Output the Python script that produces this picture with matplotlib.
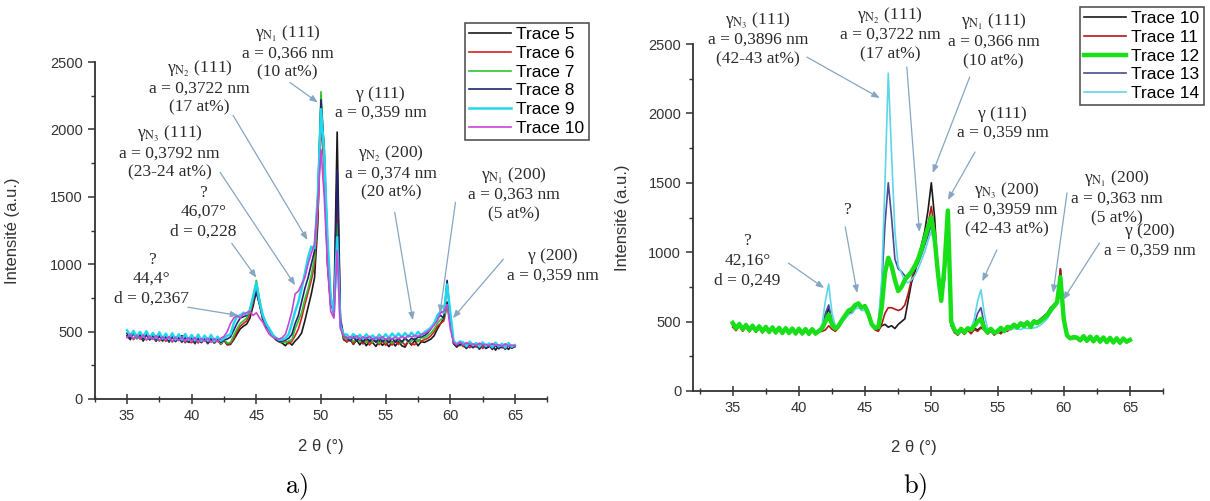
import numpy as np
import matplotlib
matplotlib.use('Agg')
import matplotlib.pyplot as plt
from matplotlib.ticker import MultipleLocator

plt.rcParams['font.family'] = ['Liberation Sans', 'DejaVu Sans']
plt.rcParams['mathtext.fontset'] = 'stix'

# 2 theta grid (deg), one reading every 0.25 deg
two_theta = np.arange(35, 65.001, 0.25)

# ---- panel a) traces ----
labels_a = ['Trace 5', 'Trace 6', 'Trace 7', 'Trace 8', 'Trace 9', 'Trace 10']
trace5 = [470, 440, 490, 452, 468, 430, 474, 445, 462, 428, 470, 431, 456, 422, 465, 427, 450, 470, 418, 454,
          446, 410, 451, 420, 448, 412, 445, 416, 440, 408, 435, 402, 405, 440, 480, 520, 540, 555, 600, 690,
          800, 700, 590, 540, 510, 470, 440, 425, 415, 395, 425, 400, 430, 455, 490, 580, 680, 780, 900, 1300,
          2180, 1750, 1000, 690, 680, 1980, 560, 440, 425, 445, 405, 438, 402, 435, 395, 428, 418, 390, 432, 398,
          422, 388, 425, 393, 430, 395, 385, 428, 400, 435, 395, 425, 420, 432, 445, 470, 520, 560, 600, 720,
          580, 410, 385, 408, 398, 375, 405, 380, 400, 370, 402, 375, 388, 405, 362, 398, 380, 400, 368, 395, 392]
trace6 = [460, 485, 442, 478, 445, 457, 472, 440, 455, 468, 430, 462, 428, 460, 422, 457, 453, 420, 456, 423,
          418, 450, 415, 446, 442, 410, 448, 414, 438, 405, 440, 408, 410, 450, 500, 540, 560, 580, 630, 720,
          830, 720, 600, 550, 520, 480, 450, 430, 420, 435, 410, 428, 470, 520, 600, 700, 790, 880, 1000, 1350,
          2050, 1700, 1050, 700, 660, 1450, 580, 450, 422, 452, 410, 445, 432, 408, 440, 400, 428, 438, 402, 432,
          398, 430, 400, 425, 405, 432, 398, 428, 410, 402, 438, 430, 440, 450, 470, 500, 540, 560, 580, 690,
          600, 420, 395, 415, 388, 410, 380, 405, 385, 406, 375, 402, 400, 372, 398, 378, 395, 370, 400, 378, 388]
trace7 = [490, 452, 480, 445, 478, 442, 475, 438, 465, 435, 470, 428, 460, 430, 465, 426, 455, 422, 458, 428,
          450, 418, 452, 422, 446, 415, 450, 418, 442, 410, 445, 415, 420, 470, 520, 560, 580, 600, 650, 760,
          880, 740, 620, 560, 520, 475, 448, 430, 425, 418, 430, 440, 520, 580, 640, 740, 820, 920, 1050, 1450,
          2280, 1800, 1080, 720, 650, 1300, 560, 460, 440, 458, 425, 452, 422, 450, 418, 445, 420, 448, 412, 440,
          418, 445, 412, 438, 440, 412, 448, 420, 430, 452, 425, 455, 452, 470, 490, 520, 560, 590, 600, 700,
          560, 420, 405, 395, 410, 385, 412, 388, 405, 380, 410, 382, 402, 378, 408, 380, 398, 375, 405, 382, 395]
trace8 = [485, 450, 498, 455, 480, 445, 478, 440, 472, 438, 468, 432, 465, 430, 462, 428, 458, 425, 460, 420,
          455, 420, 450, 418, 450, 415, 452, 420, 446, 420, 440, 445, 460, 510, 560, 600, 610, 620, 660, 740,
          790, 700, 600, 550, 510, 470, 445, 430, 430, 440, 450, 480, 560, 620, 720, 820, 900, 1000, 1100, 1500,
          2220, 1850, 1150, 730, 620, 1700, 600, 470, 455, 430, 462, 432, 452, 422, 455, 428, 448, 420, 452, 425,
          445, 418, 450, 422, 450, 422, 455, 428, 450, 440, 458, 462, 470, 490, 520, 560, 600, 620, 600, 880,
          600, 415, 398, 402, 408, 380, 410, 385, 404, 376, 406, 380, 400, 368, 402, 372, 395, 370, 400, 378, 390]
trace9 = [510, 470, 505, 462, 498, 462, 502, 455, 490, 452, 495, 448, 485, 445, 488, 440, 480, 440, 482, 438,
          475, 435, 478, 430, 470, 432, 475, 428, 462, 432, 450, 470, 480, 560, 610, 620, 640, 630, 660, 760,
          860, 720, 620, 560, 520, 480, 455, 440, 440, 450, 480, 560, 650, 720, 820, 930, 1050, 1130, 1120, 1500,
          2150, 1820, 1200, 760, 640, 1200, 540, 480, 478, 450, 482, 455, 476, 448, 480, 452, 472, 445, 478, 450,
          480, 452, 486, 458, 486, 458, 490, 462, 492, 465, 498, 472, 495, 510, 530, 560, 620, 650, 640, 850,
          640, 430, 408, 426, 420, 392, 425, 398, 415, 388, 420, 392, 412, 385, 418, 390, 410, 382, 415, 388, 400]
trace10a = [455, 480, 440, 472, 448, 476, 436, 468, 442, 470, 432, 462, 438, 462, 428, 458, 432, 460, 424, 455,
            430, 456, 422, 450, 428, 452, 420, 448, 425, 450, 465, 500, 560, 600, 620, 600, 630, 640, 650, 620,
            640, 600, 570, 520, 480, 460, 450, 445, 455, 480, 560, 650, 780, 800, 850, 900, 1000, 1080, 1150, 1450,
            1850, 1500, 1000, 650, 600, 1100, 520, 470, 448, 462, 450, 468, 442, 460, 448, 465, 440, 458, 445, 462,
            440, 456, 442, 460, 445, 465, 452, 470, 460, 470, 465, 478, 485, 500, 520, 550, 580, 640, 650, 700,
            520, 420, 402, 422, 400, 418, 404, 408, 398, 415, 402, 406, 395, 412, 398, 402, 390, 410, 394, 400, 396]

# ---- panel b) traces ----
labels_b = ['Trace 10', 'Trace 11', 'Trace 12', 'Trace 13', 'Trace 14']
trace10b = [470, 442, 475, 435, 468, 430, 465, 428, 460, 422, 456, 418, 452, 415, 450, 410, 448, 412, 445, 408,
            445, 410, 442, 406, 442, 410, 428, 440, 520, 600, 490, 450, 470, 520, 540, 580, 560, 600, 640, 610,
            620, 560, 480, 455, 440, 470, 480, 460, 470, 450, 480, 500, 520, 650, 780, 850, 950, 1050, 1150, 1300,
            1500, 1250, 850, 650, 800, 1250, 480, 430, 410, 445, 415, 448, 420, 452, 440, 460, 448, 418, 445, 410,
            438, 420, 445, 440, 460, 478, 470, 490, 485, 500, 480, 510, 500, 520, 540, 560, 600, 620, 650, 880,
            560, 400, 378, 388, 382, 362, 392, 358, 388, 355, 385, 352, 382, 350, 380, 348, 378, 345, 375, 352, 365]
trace11 = [460, 435, 468, 430, 462, 426, 458, 422, 455, 418, 450, 415, 448, 412, 445, 408, 445, 408, 440, 405,
           442, 405, 438, 402, 438, 405, 425, 430, 440, 470, 445, 430, 455, 500, 530, 560, 570, 610, 630, 600,
           600, 550, 470, 440, 430, 480, 560, 600, 600, 590, 580, 590, 620, 700, 800, 880, 920, 1000, 1100, 1200,
           1330, 1150, 800, 640, 900, 1300, 470, 420, 402, 432, 408, 438, 412, 442, 430, 455, 438, 410, 432, 402,
           428, 412, 436, 430, 455, 470, 462, 480, 478, 490, 472, 500, 495, 510, 530, 550, 590, 620, 640, 880,
           560, 395, 372, 380, 378, 358, 388, 355, 382, 350, 380, 348, 378, 345, 375, 342, 372, 340, 370, 348, 360]
trace12 = [490, 452, 482, 445, 475, 440, 470, 435, 465, 430, 462, 425, 458, 422, 455, 418, 452, 418, 450, 415,
           448, 415, 446, 412, 445, 414, 432, 450, 500, 550, 480, 450, 470, 510, 545, 580, 590, 620, 630, 600,
           610, 555, 480, 455, 460, 600, 850, 960, 900, 800, 720, 750, 800, 830, 860, 900, 950, 1020, 1100, 1180,
           1250, 1100, 850, 650, 900, 1300, 500, 440, 418, 448, 422, 452, 440, 470, 500, 520, 450, 422, 448, 420,
           428, 455, 432, 462, 455, 478, 458, 488, 468, 495, 462, 502, 490, 505, 525, 545, 580, 610, 640, 820,
           520, 400, 380, 388, 385, 365, 395, 362, 392, 358, 390, 356, 386, 352, 383, 350, 380, 348, 378, 355, 368]
trace13 = [485, 448, 480, 440, 472, 436, 468, 430, 462, 426, 458, 422, 455, 420, 452, 416, 450, 415, 448, 410,
           446, 412, 444, 410, 444, 412, 430, 450, 560, 620, 500, 455, 475, 515, 540, 575, 585, 610, 620, 600,
           605, 550, 470, 450, 470, 750, 1200, 1500, 1250, 950, 880, 860, 830, 820, 840, 880, 920, 980, 1050, 1120,
           1200, 1080, 820, 640, 850, 1250, 470, 425, 408, 440, 412, 442, 430, 480, 560, 600, 480, 422, 432, 408,
           418, 448, 422, 452, 442, 470, 448, 478, 458, 486, 452, 492, 480, 495, 515, 535, 570, 600, 630, 800,
           540, 390, 372, 380, 378, 358, 388, 354, 386, 352, 383, 350, 380, 346, 378, 344, 374, 342, 372, 350, 362]
trace14 = [500, 460, 495, 452, 488, 448, 482, 442, 478, 438, 472, 432, 470, 430, 465, 426, 465, 425, 460, 420,
           460, 422, 456, 418, 455, 420, 440, 480, 650, 770, 560, 470, 465, 500, 520, 550, 560, 590, 600, 580,
           580, 530, 470, 450, 480, 800, 1500, 2290, 1700, 1150, 900, 850, 790, 780, 800, 830, 880, 940, 1000, 1080,
           1150, 1050, 800, 640, 800, 1200, 480, 440, 422, 456, 430, 460, 450, 520, 650, 730, 560, 450, 446, 422,
           448, 444, 446, 440, 452, 448, 448, 442, 455, 450, 452, 455, 460, 475, 495, 520, 560, 600, 620, 780,
           520, 398, 380, 390, 388, 368, 400, 365, 396, 362, 393, 360, 388, 356, 386, 354, 383, 352, 380, 358, 372]

series_a = [trace5, trace6, trace7, trace8, trace9, trace10a]
series_b = [trace10b, trace11, trace12, trace13, trace14]
colors_a = ['#1a1a1a', '#d42020', '#2fc42f', '#22226e', '#20d8ee', '#c845d8']
widths_a = [1.2, 1.2, 1.2, 1.2, 1.8, 1.2]
colors_b = ['#1a1a1a', '#b01818', '#18e018', '#4a4a96', '#5ed6ea']
widths_b = [1.2, 1.2, 3.2, 1.2, 1.2]

fig = plt.figure(figsize=(12.1, 5.01), dpi=100)
W, H = 1210, 501
ax1 = fig.add_axes([94.7 / W, 1 - 399 / H, 452.6 / W, 337 / H])
ax2 = fig.add_axes([693 / W, 1 - 391 / H, 470 / W, 347 / H])

for y, c, lw, lab in zip(series_a, colors_a, widths_a, labels_a):
    ax1.plot(two_theta, y, color=c, lw=lw, label=lab)
for y, c, lw, lab in zip(series_b, colors_b, widths_b, labels_b):
    ax2.plot(two_theta, y, color=c, lw=lw, label=lab, zorder=3 if lw > 2 else 2)

for ax, xl in ((ax1, (32.5, 67.5)), (ax2, (32.0, 67.5))):
    ax.set_xlim(*xl)
    ax.set_ylim(0, 2500)
    ax.set_xticks([35, 40, 45, 50, 55, 60, 65])
    ax.xaxis.set_minor_locator(MultipleLocator(2.5))
    ax.set_yticks([0, 500, 1000, 1500, 2000, 2500])
    ax.yaxis.set_minor_locator(MultipleLocator(250))
    for s in ('top', 'right'):
        ax.spines[s].set_visible(False)
    for s in ('left', 'bottom'):
        ax.spines[s].set_linewidth(1.3)
        ax.spines[s].set_color('#333333')
    ax.tick_params(axis='x', which='major', direction='inout', length=7, width=1.1, colors='#333333', labelsize=10.5, pad=4)
    ax.tick_params(axis='x', which='minor', direction='inout', length=4, width=1.0, colors='#333333')
    ax.tick_params(axis='y', which='major', direction='out', length=5, width=1.1, colors='#333333', labelsize=10.5)
    ax.tick_params(axis='y', which='minor', direction='out', length=3, width=1.0, colors='#333333')
    ax.set_xlabel('2 θ (°)', fontsize=12, color='#333333')
    ax.set_ylabel('Intensité (a.u.)', fontsize=12, color='#333333')

ax1.xaxis.set_label_coords(0.5, -0.12)
ax1.yaxis.set_label_coords(-0.165, 0.5)
ax2.xaxis.set_label_coords(0.47, -0.14)
ax2.yaxis.set_label_coords(-0.135, 0.5)

leg_kw = dict(loc='upper left', bbox_transform=fig.transFigure, fancybox=False, framealpha=1,
              edgecolor='#555555', borderpad=0.25, labelspacing=0.2, handlelength=2.4,
              handletextpad=0.3, borderaxespad=0, fontsize=12.5)
lg1 = ax1.legend(bbox_to_anchor=(465 / W, 1 - 23 / H), **leg_kw)
lg2 = ax2.legend(bbox_to_anchor=(1080 / W, 1 - 7 / H), **leg_kw)
for lg in (lg1, lg2):
    lg.get_frame().set_linewidth(1.2)

LINE_PT = 14.0  # distance between annotation lines, in points


def note(ax, txt, pos, start=None, end=None):
    lines = txt.split('\n')
    n = len(lines)
    for i, line in enumerate(lines):
        dy = ((n - 1) / 2 - i) * LINE_PT - 4.2
        ax.annotate(line, xy=pos, xytext=(0, dy), textcoords='offset points', ha='center', va='baseline',
                    fontsize=12.5, family='Liberation Serif', color='#2a2a2a', annotation_clip=False)
    if start is not None:
        ax.annotate('', xy=end, xytext=start, annotation_clip=False,
                    arrowprops=dict(arrowstyle='-|>,head_length=0.45,head_width=0.18', color='#86a6c4',
                                    lw=0.9, shrinkA=0, shrinkB=0))


# panel a) annotations
note(ax1, 'γ$_{\\mathrm{N}_1}$ (111)\na = 0,366 nm\n(10 at%)', (47.4, 2578), (47.6, 2348), (49.75, 2200))
note(ax1, 'γ$_{\\mathrm{N}_2}$ (111)\na = 0,3722 nm\n(17 at%)', (40.6, 2318), (43.2, 2104), (48.95, 1180))
note(ax1, 'γ$_{\\mathrm{N}_3}$ (111)\na = 0,3792 nm\n(23-24 at%)', (38.3, 1837), (42.2, 1681), (48.0, 844))
note(ax1, '?\n46,07°\nd = 0,228', (40.9, 1400), (43.1, 1155), (45.0, 900))
note(ax1, '?\n44,4°\nd = 0,2367', (36.9, 904), (39.7, 681), (43.6, 620))
note(ax1, 'γ (111)\na = 0,359 nm', (54.6, 2207))
note(ax1, 'γ$_{\\mathrm{N}_2}$ (200)\na = 0,374 nm\n(20 at%)', (55.4, 1689), (55.7, 1385), (57.1, 585))
note(ax1, 'γ$_{\\mathrm{N}_1}$ (200)\na = 0,363 nm\n(5 at%)', (64.9, 1526), (60.4, 1459), (59.2, 637))
note(ax1, 'γ (200)\na = 0,359 nm', (67.9, 1004), (64.1, 1037), (60.2, 600))

# panel b) annotations
note(ax2, 'γ$_{\\mathrm{N}_3}$ (111)\na = 0,3896 nm\n(42-43 at%)', (36.9, 2543), (40.6, 2406), (46.1, 2111))
note(ax2, 'γ$_{\\mathrm{N}_2}$ (111)\na = 0,3722 nm\n(17 at%)', (46.9, 2579), (48.15, 2334), (49.1, 1146))
note(ax2, 'γ$_{\\mathrm{N}_1}$ (111)\na = 0,366 nm\n(10 at%)', (54.7, 2529), (52.9, 2262), (50.1, 1571))
note(ax2, 'γ (111)\na = 0,359 nm', (55.4, 1942), (53.3, 1722), (51.25, 1376))
note(ax2, 'γ$_{\\mathrm{N}_3}$ (200)\na = 0,3959 nm\n(42-43 at%)', (55.7, 1318), (54.95, 1016), (53.85, 790))
note(ax2, 'γ$_{\\mathrm{N}_1}$ (200)\na = 0,363 nm\n(5 at%)', (64.0, 1398), (60.25, 1427), (59.2, 706))
note(ax2, 'γ (200)\na = 0,359 nm', (66.5, 1095), (62.7, 1066), (59.95, 656))
note(ax2, '?', (43.6, 1318), (43.5, 1182), (44.4, 706))
note(ax2, '?\n42,16°\nd = 0,249', (36.1, 951), (39.2, 922), (41.9, 742))

fig.text(296 / W, 1 - 487 / H, r'$\mathrm{a)}$', math_fontfamily='cm', fontsize=19, ha='center', va='center')
fig.text(915 / W, 1 - 487 / H, r'$\mathrm{b)}$', math_fontfamily='cm', fontsize=19, ha='center', va='center')

fig.savefig('out.png', dpi=100)
